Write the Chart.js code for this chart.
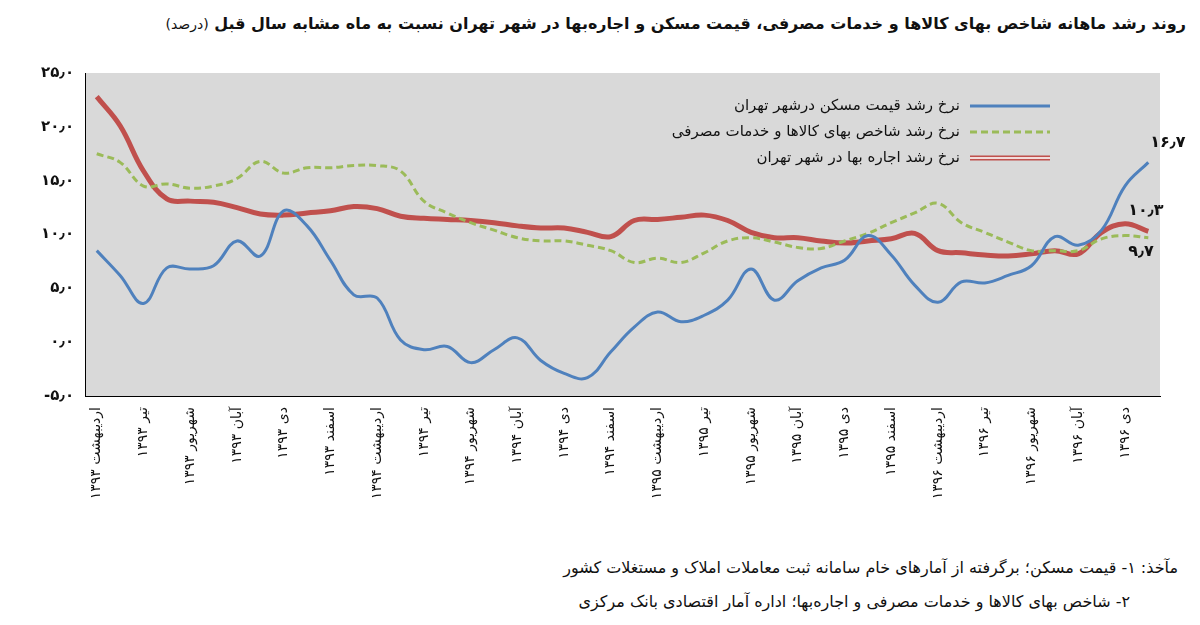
<!DOCTYPE html>
<html>
<head>
<meta charset="utf-8">
<script src="https://cdn.jsdelivr.net/npm/chart.js@4"></script>
<style>
  body { margin: 0; width: 1200px; height: 625px; background: #fff; font-family: "DejaVu Sans", sans-serif; overflow: hidden; }
  #title { position: absolute; top: 14px; right: 14px; direction: rtl; font-size: 16px; font-weight: bold; color: #111; }
  #title span { font-weight: normal; font-size: 14px; }
  #wrap { position: absolute; top: 50px; left: 0; width: 1200px; height: 500px; }
  .note { position: absolute; right: 22px; direction: rtl; font-size: 16px; color: #111; }
</style>
</head>
<body>
<div id="title">روند رشد ماهانه شاخص بهای کالاها و خدمات مصرفی، قیمت مسکن و اجاره‌بها در شهر تهران نسبت به ماه مشابه سال قبل <span>(درصد)</span></div>
<div id="wrap"><canvas id="c"></canvas></div>
<div class="note" style="top:558px">مآخذ: ۱- قیمت مسکن؛ برگرفته از آمارهای خام سامانه ثبت معاملات املاک و مستغلات کشور</div>
<div class="note" style="top:592px;right:70px">۲- شاخص بهای کالاها و خدمات مصرفی و اجاره‌بها؛ اداره آمار اقتصادی بانک مرکزی</div>
<script>
const months = ['فروردین','اردیبهشت','خرداد','تیر','مرداد','شهریور','مهر','آبان','آذر','دی','بهمن','اسفند'];
const faDigits = s => String(s).replace(/\d/g, d => '۰۱۲۳۴۵۶۷۸۹'[d]);

// monthly labels, اردیبهشت ۱۳۹۳ .. بهمن ۱۳۹۶
const labels = [];
for (let y = 1393, m = 1; labels.length < 46; ) {
  labels.push(months[m] + ' ' + faDigits(y));
  m++; if (m > 11) { m = 0; y++; }
}

const housing = [8.5,6.2,3.6,6.9,6.8,7.1,9.4,8.0,12.2,10.8,7.6,4.4,4.1,0.2,-0.7,-0.4,-1.9,-0.7,0.4,-1.7,-2.9,-3.3,-0.9,1.4,2.8,1.9,2.5,3.9,6.8,3.9,5.7,6.9,7.6,9.9,8.1,5.3,3.7,5.6,5.5,6.2,7.1,9.8,9.0,10.4,14.5,16.7];
const cpi = [17.5,16.7,14.5,14.7,14.3,14.5,15.2,16.8,15.7,16.2,16.2,16.4,16.4,15.9,13.1,12.0,11.1,10.4,9.7,9.4,9.4,9.0,8.5,7.4,7.8,7.4,8.3,9.4,9.7,9.3,8.8,8.7,9.4,10.1,11.1,12.0,12.9,11.1,10.2,9.3,8.5,8.5,8.5,9.6,9.9,9.7];
const rent = [22.8,20.1,15.9,13.3,13.1,13.0,12.5,11.9,11.8,12.0,12.2,12.6,12.4,11.7,11.5,11.4,11.3,11.1,10.8,10.6,10.6,10.2,9.8,11.3,11.4,11.6,11.8,11.3,10.2,9.7,9.7,9.4,9.2,9.4,9.6,10.1,8.5,8.3,8.1,8.0,8.2,8.5,8.2,10.2,11.0,10.3];
const yTicks = [-5, 0, 5, 10, 15, 20, 25];

const fmt = v => (v < 0 ? '-' : '') + faDigits(Math.abs(v).toFixed(1)).replace('.', '٫');

const decor = {
  id: 'decor',
  beforeDraw(chart) {
    const { ctx, chartArea: a } = chart;
    ctx.save();
    ctx.fillStyle = '#d9d9d9';
    ctx.fillRect(a.left, a.top, a.right - a.left, a.bottom - a.top);
    ctx.restore();
  },
  afterDatasetsDraw(chart) {
    const { ctx } = chart;
    ctx.save();
    const items = [
      ['نرخ رشد قیمت مسکن درشهر تهران', '#4f81bd', false, false],
      ['نرخ رشد شاخص بهای کالاها و خدمات مصرفی', '#9bbb59', true, false],
      ['نرخ رشد اجاره بها در شهر تهران', '#c0504d', false, true]
    ];
    ctx.font = '15px "DejaVu Sans"';
    ctx.textAlign = 'right';
    ctx.textBaseline = 'middle';
    items.forEach((it, i) => {
      const y = 56 + i * 26;
      ctx.strokeStyle = it[1];
      ctx.lineWidth = it[3] ? 5 : 3;
      ctx.setLineDash(it[2] ? [7, 4] : []);
      ctx.beginPath(); ctx.moveTo(970, y); ctx.lineTo(1050, y); ctx.stroke();
      if (it[3]) {
        ctx.strokeStyle = '#f2dcdb'; ctx.lineWidth = 2;
        ctx.beginPath(); ctx.moveTo(970, y); ctx.lineTo(1050, y); ctx.stroke();
      }
      ctx.setLineDash([]);
      ctx.fillStyle = '#111';
      ctx.fillText(it[0], 960, y);
    });
    const xs = chart.scales.x, ys = chart.scales.y;
    const last = labels.length - 1;
    ctx.font = 'bold 16px "DejaVu Sans"';
    ctx.textAlign = 'left';
    ctx.fillText(fmt(16.7), xs.getPixelForValue(last) + 2, ys.getPixelForValue(housing[last]) - 20);
    ctx.fillText(fmt(10.3), xs.getPixelForValue(last) - 20, ys.getPixelForValue(rent[last]) - 20);
    ctx.fillText(fmt(9.7), xs.getPixelForValue(last) - 20, ys.getPixelForValue(cpi[last]) + 14);
    ctx.restore();
  }
};

new Chart(document.getElementById('c'), {
  type: 'line',
  data: {
    labels: labels,
    datasets: [
      { data: housing, borderColor: '#4f81bd', borderWidth: 3, tension: 0.4, pointRadius: 0 },
      { data: cpi, borderColor: '#9bbb59', borderWidth: 3, borderDash: [7, 4], tension: 0.4, pointRadius: 0 },
      { data: rent, borderColor: '#c0504d', borderWidth: 5, tension: 0.4, pointRadius: 0 },
      { data: rent, borderColor: '#f2dcdb', borderWidth: 2, tension: 0.4, pointRadius: 0 }
    ]
  },
  options: {
    responsive: true,
    maintainAspectRatio: false,
    animation: false,
    layout: { padding: { left: 38, right: 40, top: 23 } },
    plugins: { legend: { display: false }, tooltip: { enabled: false } },
    scales: {
      x: {
        offset: true,
        grid: { display: false },
        border: { color: '#000' },
        afterFit: s => { s.height = 154; },
        ticks: {
          autoSkip: false, maxRotation: 90, minRotation: 90, color: '#111',
          font: { size: 14, family: 'DejaVu Sans' },
          callback: (v, i) => i % 2 === 0 ? labels[i] : ''
        }
      },
      y: {
        min: -5, max: 25,
        grid: { display: false },
        border: { color: '#000' },
        afterBuildTicks: s => { s.ticks = yTicks.map(v => ({ value: v })); },
        ticks: { color: '#111', font: { size: 15, family: 'DejaVu Sans', weight: 'bold' }, callback: v => fmt(v) }
      }
    }
  },
  plugins: [decor]
});
</script>
</body>
</html>
